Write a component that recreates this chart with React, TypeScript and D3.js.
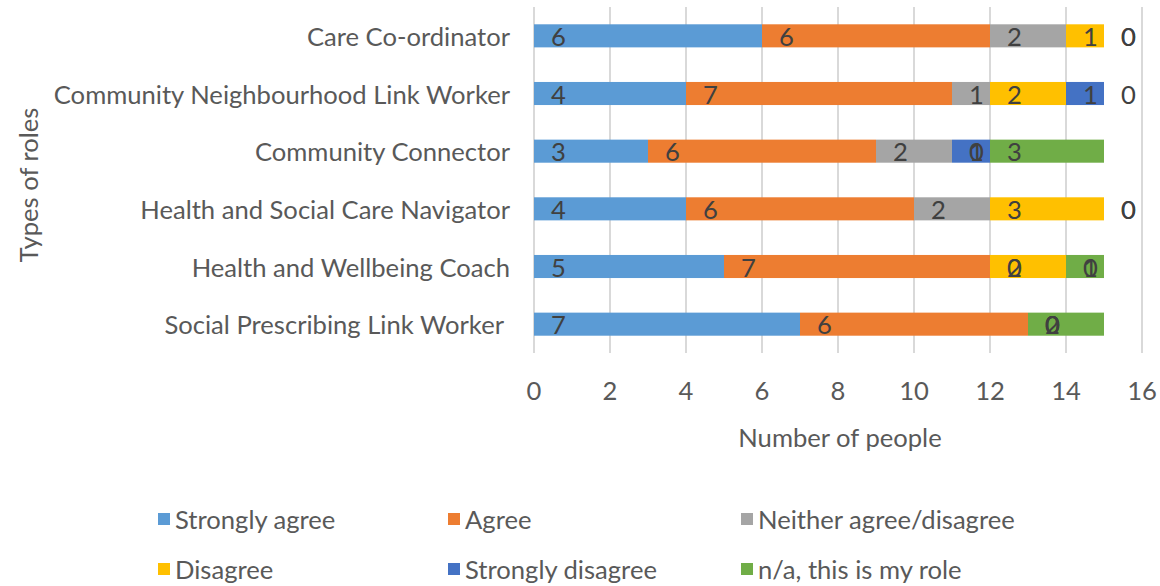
import React from "react";
import * as d3 from "d3";

const categories = [
  "Care Co-ordinator",
  "Community Neighbourhood Link Worker",
  "Community Connector",
  "Health and Social Care Navigator",
  "Health and Wellbeing Coach",
  "Social Prescribing Link Worker ",
];
const seriesNames = [
  "Strongly agree",
  "Agree",
  "Neither agree/disagree",
  "Disagree",
  "Strongly disagree",
  "n/a, this is my role",
];
const stronglyAgree = [6, 4, 3, 4, 5, 7];
const agree = [6, 7, 6, 6, 7, 6];
const neither = [2, 1, 2, 2, 0, 0];
const disagree = [1, 2, 0, 3, 2, 0];
const stronglyDisagree = [0, 1, 1, 0, 0, 0];
const notApplicable = [0, 0, 3, 0, 1, 2];
const xTicks = [0, 2, 4, 6, 8, 10, 12, 14, 16];
const colors = ["#5B9BD5", "#ED7D31", "#A5A5A5", "#FFC000", "#4472C4", "#70AD47"];

const FONT = "Lato, 'Noto Sans', sans-serif";
const FS = 25.6;

export default function App() {
  const W = 1160, H = 586;
  const left = 534, right = 1142, top = 7, bottom = 353;
  const x = d3.scaleLinear().domain([0, 16]).range([left, right]);
  const y = d3.scaleBand().domain(categories).range([top, bottom]).paddingInner(0.6).paddingOuter(0.3);

  const seriesValues = [stronglyAgree, agree, neither, disagree, stronglyDisagree, notApplicable];
  const rows = categories.map((c, i) => {
    const r: any = { cat: c };
    seriesNames.forEach((s, j) => (r[s] = seriesValues[j][i]));
    return r;
  });
  const stacked = d3.stack().keys(seriesNames)(rows);

  const legendCols = [175, 465, 758];
  const legendRows = [519, 569];

  return (
    <svg width={W} height={H} style={{ position: "absolute", left: 0, top: 0, background: "#fff" }}>
      <rect width={W} height={H} fill="#fff" />
      {xTicks.map((t) => (
        <line key={"g" + t} x1={x(t)} x2={x(t)} y1={top} y2={bottom} stroke="#D9D9D9" strokeWidth={2} />
      ))}
      {stacked.map((s, j) => (
        <g key={"s" + j}>
          {s.map((d, i) => (
            <rect
              key={i}
              x={x(d[0])}
              y={y(categories[i])}
              width={x(d[1]) - x(d[0])}
              height={y.bandwidth()}
              fill={colors[j]}
            />
          ))}
        </g>
      ))}
      {stacked.map((s, j) => (
        <g key={"l" + j}>
          {s.map((d, i) => (
            <text
              key={i}
              x={x(d[0]) + 17}
              y={(y(categories[i]) as number) + y.bandwidth() / 2}
              dominantBaseline="central"
              fontFamily={FONT}
              fontSize={FS}
              fill="#404040"
            >
              {d[1] - d[0]}
            </text>
          ))}
        </g>
      ))}
      {categories.map((c) => (
        <text
          key={c}
          x={510}
          y={(y(c) as number) + y.bandwidth() / 2}
          textAnchor="end"
          dominantBaseline="central"
          fontFamily={FONT}
          fontSize={FS}
          fill="#595959"
          xmlSpace="preserve"
          style={{ whiteSpace: "pre" }}
        >
          {c}
        </text>
      ))}
      {xTicks.map((t) => (
        <text key={"t" + t} x={x(t)} y={390} textAnchor="middle" dominantBaseline="central" fontFamily={FONT} fontSize={FS} fill="#595959">
          {t}
        </text>
      ))}
      <text x={840} y={437} textAnchor="middle" dominantBaseline="central" fontFamily={FONT} fontSize={FS} fill="#595959">
        Number of people
      </text>
      <text
        transform="translate(28,185) rotate(-90)"
        textAnchor="middle"
        dominantBaseline="central"
        fontFamily={FONT}
        fontSize={FS}
        fill="#595959"
      >
        Types of roles
      </text>
      {seriesNames.map((s, j) => {
        const lx = legendCols[j % 3];
        const ly = legendRows[Math.floor(j / 3)];
        return (
          <g key={"lg" + j}>
            <rect x={lx - 17} y={ly - 6} width={12} height={12} fill={colors[j]} />
            <text x={lx} y={ly} dominantBaseline="central" fontFamily={FONT} fontSize={FS} fill="#595959">
              {s}
            </text>
          </g>
        );
      })}
    </svg>
  );
}
